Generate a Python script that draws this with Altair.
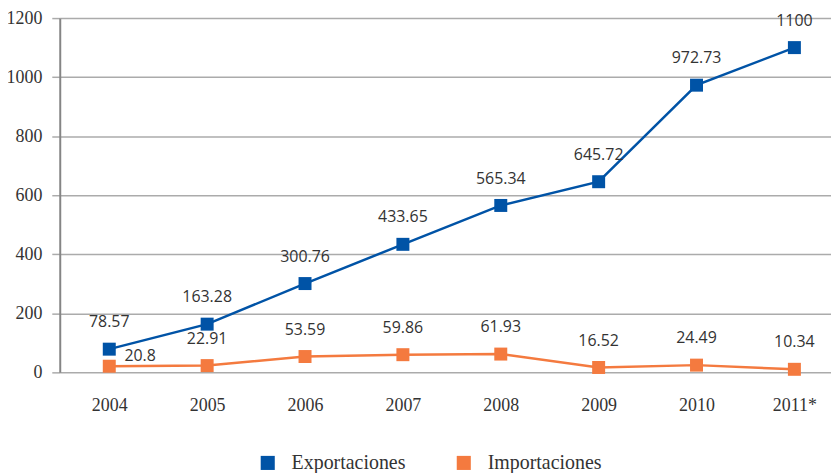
import altair as alt
import pandas as pd

years = ["2004", "2005", "2006", "2007", "2008", "2009", "2010", "2011*"]
exportaciones = [78.57, 163.28, 300.76, 433.65, 565.34, 645.72, 972.73, 1100]
importaciones = [20.8, 22.91, 53.59, 59.86, 61.93, 16.52, 24.49, 10.34]
series_names = ["Exportaciones", "Importaciones"]
series_colors = ["#0053A6", "#F47A3F"]

rows = []
for name, vals in zip(series_names, [exportaciones, importaciones]):
    for y, v in zip(years, vals):
        rows.append({"year": y, "series": name, "value": v, "label": f"{v:g}"})
df = pd.DataFrame(rows)

x = alt.X("year:N", sort=years, title=None,
          scale=alt.Scale(type="point", padding=0.44, align=0.575),
          axis=alt.Axis(labelAngle=0, domain=False, ticks=False, grid=False,
                        labelFont="Liberation Serif", labelFontSize=18,
                        labelColor="#333333", labelPadding=24))
y = alt.Y("value:Q", title=None,
          scale=alt.Scale(domain=[0, 1200], nice=False),
          axis=alt.Axis(values=[0, 200, 400, 600, 800, 1000, 1200], format="d",
                        grid=True, gridColor="#ababab", gridWidth=1.5,
                        domain=True, domainColor="#858585", domainWidth=2,
                        ticks=True, tickSize=8, tickColor="#ababab", tickWidth=1.5,
                        labelFont="Liberation Serif", labelFontSize=18,
                        labelColor="#333333", labelPadding=10))
color = alt.Color("series:N", scale=alt.Scale(domain=series_names, range=series_colors),
                  legend=alt.Legend(title=None, orient="none", direction="horizontal",
                                    legendX=199, legendY=437,
                                    symbolType="square", symbolSize=200,
                                    symbolStrokeWidth=0, symbolOpacity=1,
                                    labelFont="Liberation Serif", labelFontSize=20,
                                    labelColor="#333333", labelOffset=14,
                                    columnPadding=48))

base = alt.Chart(df)
lines = base.mark_line(strokeWidth=2.5).encode(x=x, y=y, color=color)
points = base.mark_point(shape="square", filled=True, size=170, opacity=1).encode(
    x=x, y=y, color=alt.Color("series:N", scale=alt.Scale(domain=series_names, range=series_colors), legend=None))
labels = base.mark_text(font="Open Sans", fontSize=16, color="#333333", dy=-27).encode(
    x=x, y=y, text="label:N").transform_filter(
    "!(datum.year == '2004' && datum.series == 'Importaciones')")
label_special = base.mark_text(font="Open Sans", fontSize=16, color="#333333",
                               dx=31, dy=-10).encode(
    x=x, y=y, text="label:N").transform_filter(
    "datum.year == '2004' && datum.series == 'Importaciones'")

chart = alt.layer(lines, points, labels, label_special).properties(
    width=775, height=356,
    autosize=alt.AutoSizeParams(type="none"),
    padding={"left": 52, "top": 9, "right": 0, "bottom": 100},
).configure_view(stroke=None)

chart.save("out.html", embed_options={"renderer": "svg", "actions": False})
